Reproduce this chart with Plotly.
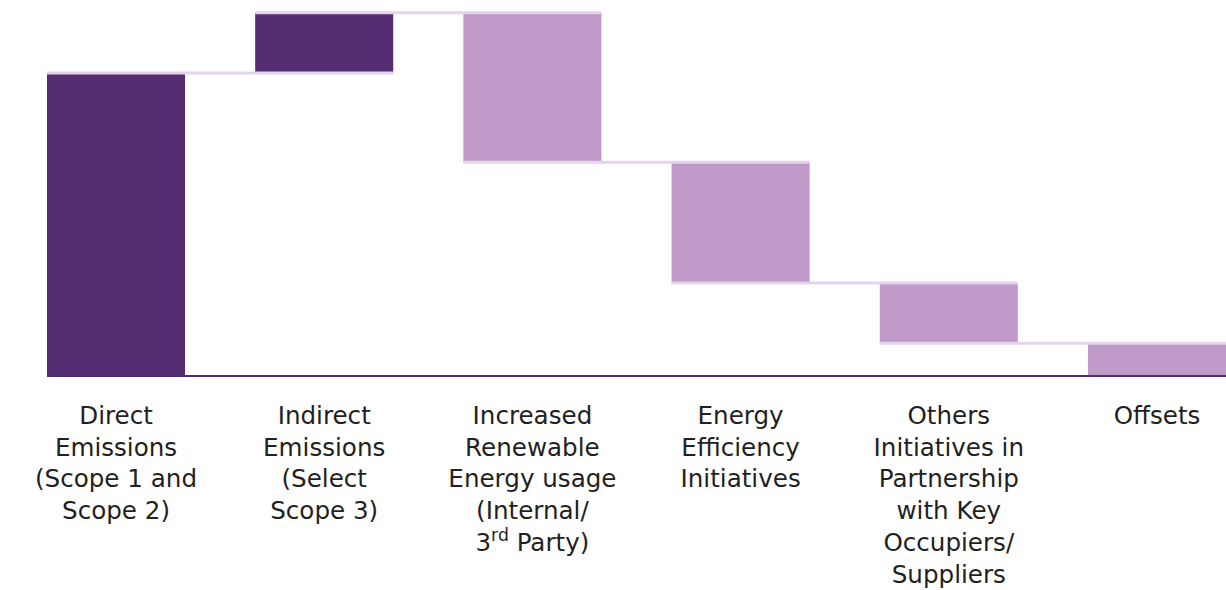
import plotly.graph_objects as go

categories = [
    "Direct<br>Emissions<br>(Scope 1 and<br>Scope 2)",
    "Indirect<br>Emissions<br>(Select<br>Scope 3)",
    "Increased<br>Renewable<br>Energy usage<br>(Internal/<br>3<sup>rd</sup> Party)",
    "Energy<br>Efficiency<br>Initiatives",
    "Others<br>Initiatives in<br>Partnership<br>with Key<br>Occupiers/<br>Suppliers",
    "Offsets",
]
values = [100, 20, -49.5, -40, -20, -10.5]
positions = [0, 1, 2, 3, 4, 5]

DARK = "#532C71"
LIGHT = "#BF99C8"
CONN = "#E3D4EB"
FONT = "DejaVu Sans"

fig = go.Figure(go.Waterfall(
    x=positions,
    y=values,
    measure=["relative"] * len(values),
    increasing=dict(marker=dict(color=DARK)),
    decreasing=dict(marker=dict(color=LIGHT)),
    connector=dict(mode="spanning", line=dict(color=CONN, width=3)),
    width=0.663,
    hoverinfo="skip",
))

fig.update_layout(
    width=1226, height=590,
    margin=dict(l=47, r=0, t=0, b=215),
    plot_bgcolor="white", paper_bgcolor="white",
    showlegend=False,
    font=dict(family=FONT, size=24.6, color="#231F20"),
    xaxis=dict(
        range=[-0.3315, 5.3315],
        tickvals=positions, ticktext=categories,
        showgrid=False, zeroline=False,
        showline=True, linecolor="#522D6E", linewidth=2,
        ticks="outside", ticklen=17, tickcolor="rgba(0,0,0,0)",
        tickfont=dict(family=FONT, size=24.6, color="#231F20"),
    ),
    yaxis=dict(
        range=[0, 124.2], visible=False, showgrid=False, zeroline=False,
    ),
)

fig.write_html("out.html")
